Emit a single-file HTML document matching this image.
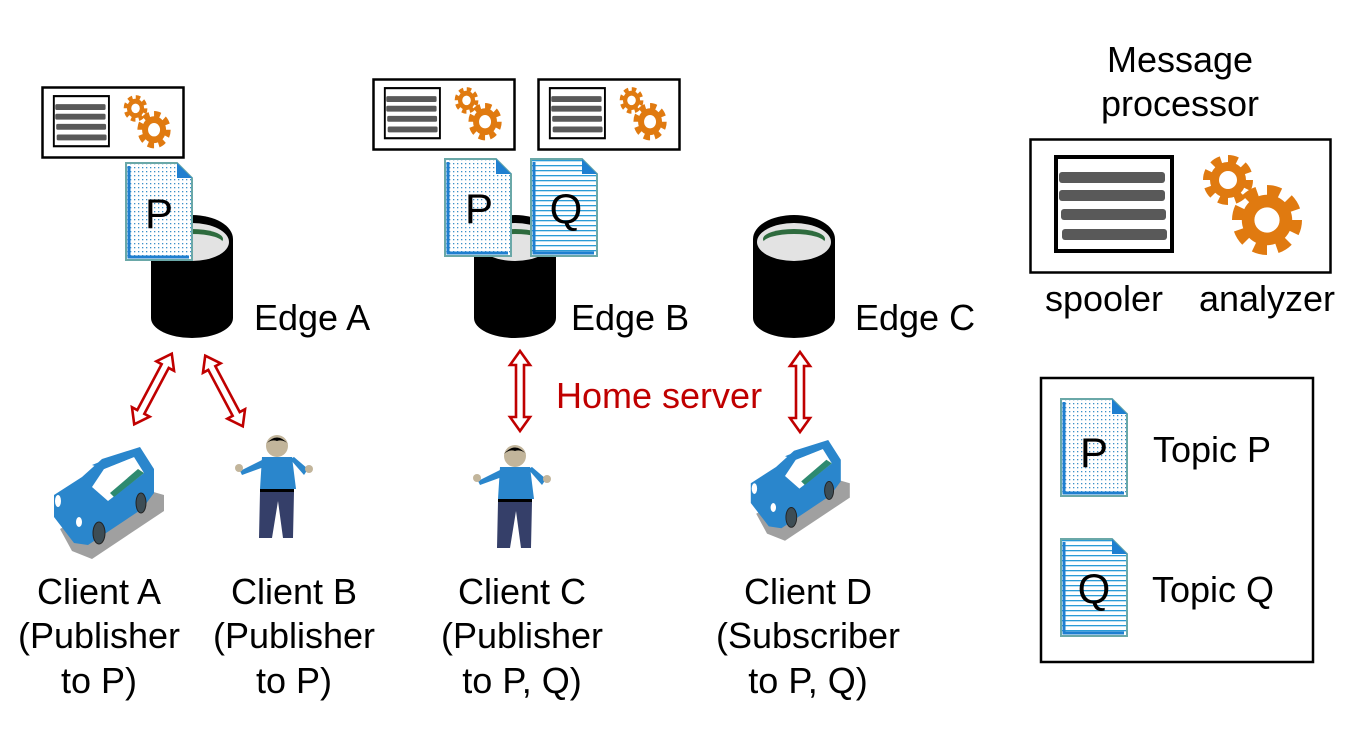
<!DOCTYPE html>
<html><head><meta charset="utf-8"><style>
body{margin:0;background:#fff}
svg{display:block}
text{font-family:"Liberation Sans",sans-serif}
</style></head><body>
<svg width="1352" height="748" viewBox="0 0 1352 748" xmlns="http://www.w3.org/2000/svg">
<defs>
<pattern id="dots" width="4" height="4" patternUnits="userSpaceOnUse"><rect width="4" height="4" fill="#fff"/><rect x="1" y="1" width="1.3" height="1.3" fill="#3a8fc8"/></pattern>
<pattern id="hl" width="6" height="5" patternUnits="userSpaceOnUse"><rect width="6" height="5" fill="#fff"/><rect y="2" width="6" height="1.3" fill="#2a9bd6"/></pattern>
<g id="gear1">
  <circle r="19" fill="none" stroke="#e07a10" stroke-width="12" stroke-dasharray="8.5 6.4"/>
  <circle r="18" fill="#e07a10"/>
  <circle r="9" fill="#fff"/>
</g>
<g id="gears">
  <use href="#gear1" transform="translate(199,42) scale(1.0)"/>
  <use href="#gear1" transform="translate(238,82) scale(1.4)"/>
</g>
<g id="procin">
  <rect x="27" y="19" width="116" height="94" fill="#fff" stroke="#000" stroke-width="4"/>
  <rect x="30" y="34" width="106" height="11" rx="3" fill="#595959"/>
  <rect x="30" y="52" width="106" height="11" rx="3" fill="#595959"/>
  <rect x="32" y="71" width="105" height="11" rx="3" fill="#595959"/>
  <rect x="33" y="91" width="105" height="11" rx="3" fill="#595959"/>
  <use href="#gears"/>
</g>
<g id="cyl">
  <ellipse cx="41" cy="103" rx="41" ry="20" fill="#000"/>
  <rect x="0" y="24" width="82" height="79" fill="#000"/>
  <ellipse cx="41" cy="24" rx="41" ry="24" fill="#000"/>
  <ellipse cx="41" cy="27" rx="37" ry="19" fill="#e3e3e3"/>
  <ellipse cx="41" cy="24" rx="31" ry="10" fill="#2e6b3e"/>
  <ellipse cx="41" cy="28" rx="31" ry="9" fill="#e3e3e3"/>
</g>
<g id="docP">
  <path d="M1,1 H52 L67,16 V98 H1 Z" fill="url(#dots)" stroke="#6aa8a8" stroke-width="2"/>
  <path d="M4,4 V95 H64" fill="none" stroke="#1f7fd0" stroke-width="3"/>
  <path d="M52,1 V16 H67 Z" fill="#1f7fd0"/>
</g>
<g id="docQ">
  <path d="M1,1 H52 L67,16 V98 H1 Z" fill="url(#hl)" stroke="#6aa8a8" stroke-width="2"/>
  <path d="M4,4 V95 H64" fill="none" stroke="#1f7fd0" stroke-width="3"/>
  <path d="M52,1 V16 H67 Z" fill="#1f7fd0"/>
</g>
<g id="arrow">
  <path d="M-40,0 L-26,-10 L-26,-4 L26,-4 L26,-10 L40,0 L26,10 L26,4 L-26,4 L-26,10 Z" fill="#fff" stroke="#c00000" stroke-width="2.6" stroke-linejoin="miter"/>
</g>
<g id="car">
  <path d="M8,82 L84,40 L112,48 L112,64 L40,112 L20,104 Z" fill="#a0a0a0"/>
  <path d="M2,70 L2,48 L30,30 L50,12 L88,0 L102,22 L102,46 L90,62 L36,98 L22,96 Z" fill="#2a86cc"/>
  <path d="M40,40 L52,22 L82,10 L92,26 L56,54 Z" fill="#fff"/>
  <path d="M52,22 L82,10 L70,6 L40,18 Z" fill="#2a86cc"/>
  <path d="M62,50 L92,26 L86,22 L58,46 Z" fill="#2e8a70"/>
  <ellipse cx="47" cy="86" rx="6" ry="11" fill="#3d4d55" stroke="#222" stroke-width="1"/>
  <ellipse cx="89" cy="56" rx="5" ry="10" fill="#3d4d55" stroke="#222" stroke-width="1"/>
  <ellipse cx="6" cy="54" rx="3" ry="6" fill="#fff"/>
  <ellipse cx="27" cy="75" rx="3" ry="5" fill="#fff"/>
</g>
<g id="person">
  <ellipse cx="49" cy="11" rx="11" ry="11" fill="#c2b59b"/>
  <path d="M38,9 Q49,-4 60,9 Q55,4 49,6 Q43,4 38,9Z" fill="#000"/>
  <path d="M34,22 H64 L68,54 H32 Z" fill="#2a86cc"/>
  <path d="M36,24 L12,36 L14,40 L36,32 Z" fill="#2a86cc"/>
  <path d="M62,24 L76,40 L80,34 L66,22 Z" fill="#2a86cc"/>
  <circle cx="11" cy="33" r="4" fill="#c2b59b"/>
  <circle cx="81" cy="34" r="4" fill="#c2b59b"/>
  <rect x="32" y="54" width="34" height="3" fill="#000"/>
  <path d="M32,57 H66 L65,103 H55 L50,66 L44,103 H31 Z" fill="#353f69"/>
</g>
</defs>

<!-- Edge A -->
<rect x="42.5" y="87.5" width="141" height="70" fill="#fff" stroke="#000" stroke-width="2.5"/>
<use href="#procin" transform="translate(41,86) scale(0.475,0.533)"/>
<use href="#cyl" transform="translate(151,215)"/>
<use href="#docP" transform="translate(125,162)"/>
<text x="159" y="228" font-size="42" text-anchor="middle" fill="#000">P</text>
<text x="254" y="330" font-size="36">Edge A</text>

<!-- Edge B -->
<rect x="373.5" y="79.5" width="141" height="70" fill="#fff" stroke="#000" stroke-width="2.5"/>
<rect x="538.5" y="79.5" width="141" height="70" fill="#fff" stroke="#000" stroke-width="2.5"/>
<use href="#procin" transform="translate(372,78) scale(0.475,0.533)"/>
<use href="#procin" transform="translate(537,78) scale(0.475,0.533)"/>
<use href="#cyl" transform="translate(474,215)"/>
<use href="#docP" transform="translate(444,158)"/>
<use href="#docQ" transform="translate(530,158)"/>
<text x="479" y="223" font-size="42" text-anchor="middle">P</text>
<text x="566" y="223" font-size="42" text-anchor="middle">Q</text>
<text x="571" y="330" font-size="36">Edge B</text>

<!-- Edge C -->
<use href="#cyl" transform="translate(753,215)"/>
<text x="855" y="330" font-size="36">Edge C</text>

<!-- Message processor -->
<text x="1180" y="72" font-size="36" text-anchor="middle">Message</text>
<text x="1180" y="116" font-size="36" text-anchor="middle">processor</text>
<rect x="1030.5" y="139.5" width="300" height="133" fill="#fff" stroke="#000" stroke-width="2.5"/>
<use href="#procin" transform="translate(1029,138)"/>
<text x="1104" y="311" font-size="36" text-anchor="middle">spooler</text>
<text x="1267" y="311" font-size="36" text-anchor="middle">analyzer</text>

<!-- Legend -->
<rect x="1041" y="378" width="272" height="284" fill="#fff" stroke="#000" stroke-width="2.5"/>
<use href="#docP" transform="translate(1060,398)"/>
<text x="1094" y="467" font-size="42" text-anchor="middle">P</text>
<text x="1153" y="462" font-size="36">Topic P</text>
<use href="#docQ" transform="translate(1060,538)"/>
<text x="1094" y="603" font-size="42" text-anchor="middle">Q</text>
<text x="1152" y="602" font-size="36">Topic Q</text>

<!-- Arrows -->
<use href="#arrow" transform="translate(153,389) rotate(-62)"/>
<use href="#arrow" transform="translate(224,391) rotate(62)"/>
<use href="#arrow" transform="translate(520,391) rotate(90)"/>
<use href="#arrow" transform="translate(800,392) rotate(90)"/>
<text x="556" y="408" font-size="36" fill="#c00000">Home server</text>

<!-- Clients -->
<use href="#car" transform="translate(52,447)"/>
<use href="#person" transform="translate(228,435)"/>
<use href="#person" transform="translate(466,445)"/>
<use href="#car" transform="translate(749,440) scale(0.9)"/>

<g font-size="36" text-anchor="middle">
<text x="99" y="604">Client A</text>
<text x="99" y="648">(Publisher</text>
<text x="99" y="693">to P)</text>
<text x="294" y="604">Client B</text>
<text x="294" y="648">(Publisher</text>
<text x="294" y="693">to P)</text>
<text x="522" y="604">Client C</text>
<text x="522" y="648">(Publisher</text>
<text x="522" y="693">to P, Q)</text>
<text x="808" y="604">Client D</text>
<text x="808" y="648">(Subscriber</text>
<text x="808" y="693">to P, Q)</text>
</g>
</svg>
</body></html>
